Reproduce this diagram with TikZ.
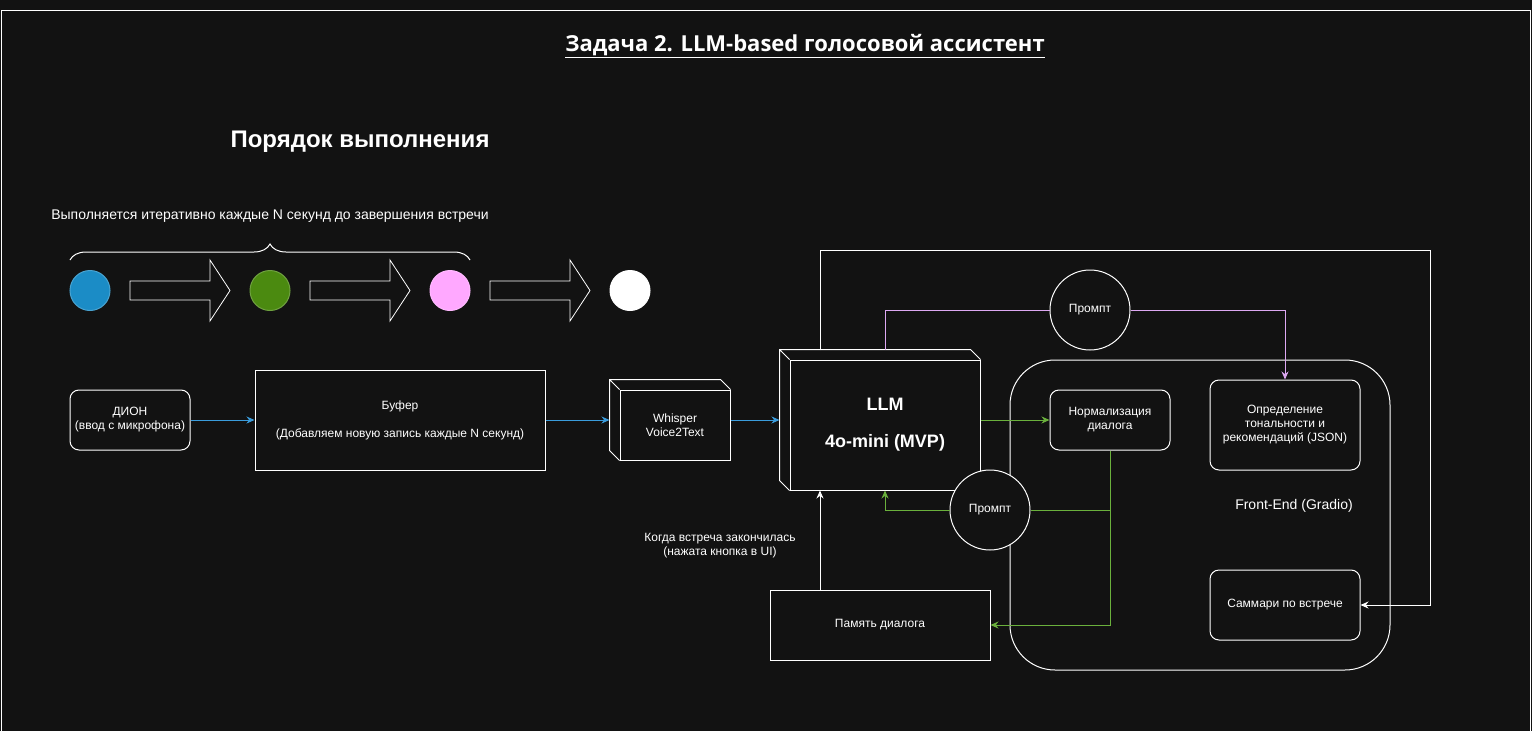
\documentclass[tikz,border=0pt]{standalone}
\usepackage{fontspec}
\setmainfont{Liberation Sans}
\newfontfamily\titlefont{Open Sans}
\usetikzlibrary{arrows.meta,decorations.pathreplacing}

\definecolor{canvas}{HTML}{121212}
\definecolor{flowblue}{HTML}{3A9CDC}
\definecolor{flowgreen}{HTML}{6AB03C}
\definecolor{flowpink}{HTML}{DDA8F2}
\definecolor{dotblue}{HTML}{1B8CC6}
\definecolor{dotgreen}{HTML}{4B8A10}
\definecolor{dotpink}{HTML}{FFA8FF}

\begin{document}
\begin{tikzpicture}[
  x=1pt, y=-1pt, line width=1pt, color=white,
  font=\fontsize{12}{14}\selectfont,
  box/.style={draw, fill=canvas, align=center, inner sep=2pt},
  rbox/.style={box, rounded corners=9pt},
  prompt/.style={box, circle, minimum size=80pt, inner sep=0pt},
  dot/.style={circle, minimum size=40pt, inner sep=0pt, fill=#1, draw=#1!80!white},
  flow/.style={draw=flowblue, -{Stealth[length=8pt, width=7pt]}},
  gflow/.style={draw=flowgreen, -{Stealth[length=8pt, width=7pt]}},
  pflow/.style={draw=flowpink, -{Stealth[length=8pt, width=7pt]}},
  wflow/.style={draw=white, -{Stealth[length=8pt, width=7pt]}}
]
\useasboundingbox (0,0) rectangle (1532,731);
\fill[canvas] (0,0) rectangle (1532,731);
\clip (0,0) rectangle (1532,731);
\draw (1,10) rectangle (1530,760);

\node (title) at (805,46)
  {\titlefont\bfseries\fontsize{22}{26}\selectfont\underline{Задача 2. LLM-based голосовой ассистент}};
\node[font=\bfseries\fontsize{24}{28}\selectfont] (order) at (360,142) {Порядок выполнения};
\node[font=\fontsize{14}{16}\selectfont] (loopnote) at (270,216)
  {Выполняется итеративно каждые N секунд до завершения встречи};
\draw[decorate, decoration={brace, amplitude=16pt}] (70,260) -- (470,260);

\node[dot=dotblue]  (dblue)  at (90,290.5)  {};
\node[dot=dotgreen] (dgreen) at (270,290.5) {};
\node[dot=dotpink]  (dpink)  at (450,290.5) {};
\node[dot=white]    (dwhite) at (630,290.5) {};
\foreach \ax in {130,310,490}
  \draw[line width=0.8pt, fill=canvas] (\ax,281) -- ++(80,0) -- ++(0,-21) -- ++(20,30.5)
    -- ++(-20,30.5) -- ++(0,-21) -- ++(-80,0) -- cycle;

\node[rbox, minimum width=120, minimum height=60] (dion) at (130,420)
  {ДИОН\\(ввод с микрофона)};
\node[box, minimum width=290, minimum height=100] (buffer) at (400,420)
  {Буфер\\[14pt](Добавляем новую запись каждые N секунд)};
\node[box, minimum width=110, minimum height=70] (whisper) at (675,425)
  {Whisper\\Voice2Text};
\draw (whisper.south west) -- ++(-10,-10) |- ([shift={(-10,-10)}]whisper.north east)
  -- (whisper.north east) (whisper.north west) -- ++(-10,-10);
\node[box, minimum width=190, minimum height=130, font=\bfseries\fontsize{18}{20}\selectfont] (llm)
  at (885,425) {LLM\\[17pt]4o-mini (MVP)};
\draw (llm.south west) -- ++(-10,-10) |- ([shift={(-10,-10)}]llm.north east)
  -- (llm.north east) (llm.north west) -- ++(-10,-10);

\node[box, rounded corners=45pt, minimum width=380, minimum height=310] (frontend) at (1200,515) {};
\node[font=\fontsize{14}{16}\selectfont] (felabel) at (1294,506) {Front-End (Gradio)};
\node[rbox, minimum width=120, minimum height=60] (norm) at (1110,420)
  {Нормализация\\диалога};
\node[rbox, minimum width=150, minimum height=90] (tone) at (1285,425)
  {Определение\\тональности и\\рекомендаций (JSON)};
\node[rbox, minimum width=150, minimum height=70] (summary) at (1285,605)
  {Саммари по встрече};
\node[box, minimum width=220, minimum height=70] (memory) at (880,625) {Память диалога};
\node[align=center] (endnote) at (720,546) {Когда встреча закончилась\\(нажата кнопка в UI)};

\coordinate (loopstart) at (820,350);
\coordinate (loopcorner) at (1430,250);

\draw[flow] (dion.east) -- (buffer.west);
\draw[flow] (buffer.east) -- ([xshift=-10pt]buffer.east -| whisper.west);
\draw[flow] (whisper.east |- buffer.east) -- ([xshift=-10pt]buffer.east -| llm.west);
\draw[gflow] (llm.east |- norm.west) -- (norm.west);
\draw[wflow] (loopstart) |- (loopcorner) |- (summary.east);
\draw[wflow] (memory.north -| loopstart) -- (llm.south -| loopstart);

\node[prompt] (ptop) at (1090,310) {Промпт};
\node[prompt] (pbot) at (990,510) {Промпт};

\draw[draw=flowpink] ([yshift=10pt]llm.north) |- (ptop.west);
\draw[pflow] (ptop.east) -| (tone.north);
\draw[draw=flowgreen] (norm.south) |- (pbot.east);
\draw[gflow] (norm.south) |- (memory.east);
\draw[gflow] (pbot.west) -| (llm.south);
\end{tikzpicture}
\end{document}
